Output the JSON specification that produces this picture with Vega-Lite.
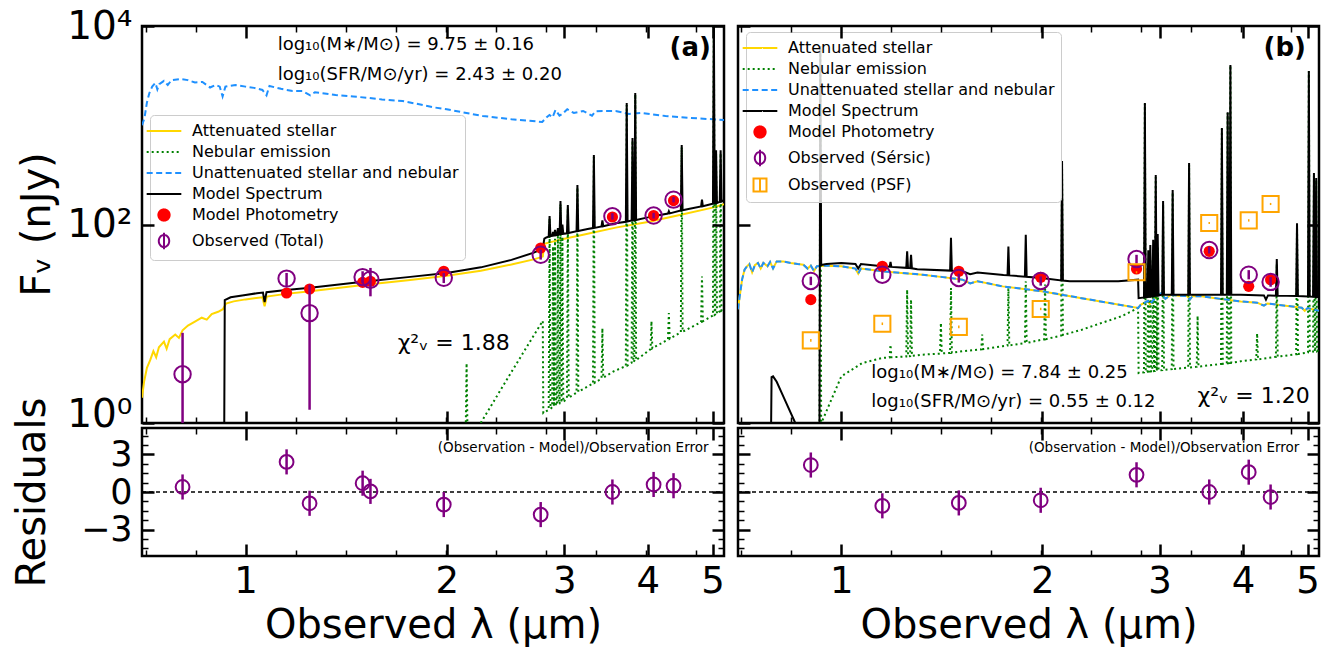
{
"$schema": "https://vega.github.io/schema/vega-lite/v6.json",
"padding": {"left": 10, "top": 5, "right": 5, "bottom": 5},
"background": "white",
"config": {
  "font": "DejaVu Sans",
  "view": {"stroke": "black", "strokeWidth": 2.5},
  "axis": {"grid": false, "domain": false, "tickColor": "black", "labelColor": "black", "titleColor": "black", "titleFontWeight": "normal", "labelFlush": false, "labelOverlap": false, "labelBound": false}
},
"datasets": {
"aAtt": [{"x":0.700,"y":1.8},{"x":0.705,"y":2.6},{"x":0.712,"y":3.6},{"x":0.72,"y":4.3},{"x":0.728,"y":5.3},{"x":0.735,"y":4.6},{"x":0.742,"y":5.8},{"x":0.755,"y":6.6},{"x":0.762,"y":5.6},{"x":0.77,"y":7.0},{"x":0.785,"y":7.8},{"x":0.795,"y":7.2},{"x":0.805,"y":8.6},{"x":0.82,"y":9.6},{"x":0.84,"y":10.5},{"x":0.86,"y":11.5},{"x":0.875,"y":11.0},{"x":0.89,"y":12.5},{"x":0.91,"y":13.2},{"x":0.925,"y":14.0},{"x":0.935,"y":16.0},{"x":0.96,"y":16.8},{"x":1.0,"y":17.6},{"x":1.06,"y":18.5},{"x":1.068,"y":15.0},{"x":1.076,"y":18.8},{"x":1.15,"y":20.0},{"x":1.25,"y":21.3},{"x":1.5,"y":24.6},{"x":1.75,"y":27.5},{"x":2.0,"y":30.5},{"x":2.25,"y":34.2},{"x":2.5,"y":39.5},{"x":2.7,"y":44.5},{"x":2.785,"y":47.5},{"x":2.8,"y":64},{"x":2.9,"y":68},{"x":3.0,"y":72},{"x":3.2,"y":79},{"x":3.58,"y":93},{"x":4.0,"y":106},{"x":4.5,"y":126},{"x":5.0,"y":148},{"x":5.2,"y":160}],
"aNeb": [{"x":0.70,"y":0.3},{"x":2.1356,"y":0.84},{"x":2.142,"y":4.0},{"x":2.1484,"y":0.86},{"x":2.249,"y":1.0},{"x":2.5,"y":3.27},{"x":2.65,"y":6.2},{"x":2.785,"y":10.7},{"x":2.79,"y":1.26},
{"x":2.8425,"y":1.36},{"x":2.851,"y":115},{"x":2.8596,"y":1.39},
{"x":2.8764,"y":1.44},{"x":2.885,"y":60},{"x":2.8937,"y":1.47},
{"x":2.8963,"y":1.48},{"x":2.905,"y":72},{"x":2.9137,"y":1.5},
{"x":2.9252,"y":1.52},{"x":2.934,"y":80},{"x":2.9428,"y":1.55},
{"x":2.9511,"y":1.57},{"x":2.96,"y":160},{"x":2.9689,"y":1.6},
{"x":2.9711,"y":1.61},{"x":2.98,"y":75},{"x":2.9889,"y":1.63},
{"x":3.0269,"y":1.76},{"x":3.036,"y":145},{"x":3.0451,"y":1.8},
{"x":3.1286,"y":2.02},{"x":3.138,"y":235},{"x":3.1474,"y":2.06},
{"x":3.3111,"y":2.5},{"x":3.321,"y":480},{"x":3.331,"y":2.55},
{"x":3.4098,"y":2.8},{"x":3.42,"y":9},{"x":3.4303,"y":2.86},
{"x":3.55,"y":3.3},
{"x":3.7079,"y":3.75},{"x":3.719,"y":1600},{"x":3.7302,"y":3.8},
{"x":3.7826,"y":4.05},{"x":3.794,"y":700},{"x":3.8054,"y":4.1},
{"x":3.8185,"y":4.25},{"x":3.83,"y":2050},{"x":3.8415,"y":4.3},
{"x":4.0379,"y":5.55},{"x":4.05,"y":10.6},{"x":4.0622,"y":5.65},
{"x":4.2871,"y":6.95},{"x":4.3,"y":12.8},{"x":4.3129,"y":7.05},
{"x":4.4816,"y":8.2},{"x":4.495,"y":600},{"x":4.5085,"y":8.3},
{"x":4.8056,"y":10.4},{"x":4.82,"y":30},{"x":4.8345,"y":10.6},
{"x":5.006,"y":12.1},{"x":5.021,"y":15000},{"x":5.0361,"y":12.3},
{"x":5.0449,"y":12.4},{"x":5.06,"y":520},{"x":5.0752,"y":12.6},
{"x":5.1246,"y":13.4},{"x":5.14,"y":520},{"x":5.1554,"y":13.6},
{"x":5.2,"y":14.4}],
"aUna": [{"x":0.700,"y":1000},{"x":0.706,"y":1183},{"x":0.712,"y":1700},{"x":0.718,"y":2113},{"x":0.725,"y":2450},{"x":0.733,"y":2667},{"x":0.738,"y":2300},{"x":0.743,"y":2600},{"x":0.755,"y":2800},{"x":0.765,"y":2550},{"x":0.775,"y":2850},{"x":0.799,"y":2924},{"x":0.82,"y":2850},{"x":0.84,"y":2700},{"x":0.862,"y":2728},{"x":0.885,"y":2400},{"x":0.902,"y":2550},{"x":0.915,"y":2450},{"x":0.924,"y":1950},{"x":0.933,"y":2450},{"x":0.966,"y":2545},{"x":1.0,"y":2450},{"x":1.03,"y":2380},{"x":1.06,"y":2266},{"x":1.075,"y":2000},{"x":1.086,"y":2485},{"x":1.13,"y":2330},{"x":1.176,"y":2213},{"x":1.217,"y":2213},{"x":1.25,"y":2000},{"x":1.27,"y":2150},{"x":1.364,"y":2017},{"x":1.45,"y":1950},{"x":1.533,"y":1882},{"x":1.6,"y":1820},{"x":1.717,"y":1754},{"x":1.8,"y":1650},{"x":1.905,"y":1520},{"x":2.0,"y":1450},{"x":2.264,"y":1240},{"x":2.5,"y":1150},{"x":2.78,"y":1079},{"x":2.82,"y":1200},{"x":2.85,"y":1268},{"x":2.88,"y":1200},{"x":2.91,"y":1425},{"x":2.95,"y":1250},{"x":2.98,"y":1300},{"x":3.03,"y":1450},{"x":3.1,"y":1330},{"x":3.2,"y":1393},{"x":3.3,"y":1250},{"x":3.34,"y":1380},{"x":3.42,"y":1393},{"x":3.58,"y":1393},{"x":3.75,"y":1300},{"x":3.9,"y":1330},{"x":4.25,"y":1240},{"x":4.6,"y":1190},{"x":5.2,"y":1130}],
"aMod": [{"x":0.70,"y":0.5},{"x":0.929,"y":0.5},{"x":0.931,"y":17.3},{"x":0.95,"y":18.5},{"x":1.0,"y":19.5},{"x":1.04,"y":20.3},{"x":1.062,"y":20.6},{"x":1.068,"y":16.5},{"x":1.075,"y":20.8},{"x":1.15,"y":21.9},{"x":1.25,"y":23},{"x":1.5,"y":26.5},{"x":1.75,"y":29.5},{"x":2.0,"y":32.5},{"x":2.25,"y":37},{"x":2.5,"y":44},{"x":2.7,"y":52},{"x":2.785,"y":57},{"x":2.8,"y":72},{"x":2.82,"y":74},
{"x":2.8425,"y":75.5},{"x":2.851,"y":122},{"x":2.8596,"y":76.5},
{"x":2.8764,"y":77},{"x":2.885,"y":84},{"x":2.8937,"y":77.5},
{"x":2.8963,"y":77.6},{"x":2.905,"y":88},{"x":2.9137,"y":78},
{"x":2.9252,"y":78.5},{"x":2.934,"y":92},{"x":2.9428,"y":79},
{"x":2.9511,"y":79.5},{"x":2.96,"y":172},{"x":2.9689,"y":80},
{"x":2.9711,"y":80},{"x":2.98,"y":100},{"x":2.9889,"y":80.5},
{"x":3.0269,"y":81.5},{"x":3.036,"y":157},{"x":3.0451,"y":82},
{"x":3.1286,"y":85.5},{"x":3.138,"y":250},{"x":3.1474,"y":86},
{"x":3.25,"y":90},
{"x":3.3111,"y":92},{"x":3.321,"y":502},{"x":3.331,"y":92.5},
{"x":3.4098,"y":95.5},{"x":3.42,"y":110},{"x":3.4303,"y":96},
{"x":3.58,"y":103},
{"x":3.7079,"y":106.5},{"x":3.719,"y":1675},{"x":3.7302,"y":107},
{"x":3.7826,"y":109.5},{"x":3.794,"y":744},{"x":3.8054,"y":110},
{"x":3.8185,"y":110.5},{"x":3.83,"y":2113},{"x":3.8415,"y":111},
{"x":4.0,"y":118},
{"x":4.0379,"y":120},{"x":4.05,"y":126},{"x":4.0622,"y":120.5},
{"x":4.2871,"y":129},{"x":4.3,"y":136},{"x":4.3129,"y":129.5},
{"x":4.4816,"y":138.5},{"x":4.495,"y":632},{"x":4.5085,"y":139},
{"x":4.6,"y":143},
{"x":4.8056,"y":152},{"x":4.82,"y":178},{"x":4.8345,"y":153},
{"x":5.0,"y":162},
{"x":5.006,"y":162.5},{"x":5.021,"y":15000},{"x":5.0361,"y":163},
{"x":5.0449,"y":163.5},{"x":5.06,"y":560},{"x":5.0752,"y":164.5},
{"x":5.1246,"y":169},{"x":5.14,"y":560},{"x":5.1554,"y":170},
{"x":5.2,"y":176}],
"aPhot": [
{"x":0.805,"f":3.1,"lo":0.5,"hi":8.1,"m":null,"r":0.4,"rlo":-0.6,"rhi":1.4},
{"x":1.152,"f":28.5,"lo":23.9,"hi":32.5,"m":20.4,"r":2.4,"rlo":1.4,"rhi":3.4},
{"x":1.247,"f":12.8,"lo":1.36,"hi":24.8,"m":22.4,"r":-0.9,"rlo":-1.9,"rhi":0.1},
{"x":1.497,"f":29.5,"lo":25.7,"hi":33.8,"m":26.1,"r":0.7,"rlo":-0.3,"rhi":1.7},
{"x":1.538,"f":27.8,"lo":18.9,"hi":36.5,"m":26.8,"r":0.05,"rlo":-0.95,"rhi":1.05},
{"x":1.98,"f":29.0,"lo":25.7,"hi":32.4,"m":33.8,"r":-1.0,"rlo":-2.0,"rhi":0.0},
{"x":2.765,"f":49.5,"lo":44.3,"hi":55.8,"m":57.9,"r":-1.8,"rlo":-2.8,"rhi":-0.8},
{"x":3.54,"f":121,"lo":112,"hi":130,"m":119,"r":0.0,"rlo":-1.0,"rhi":1.0},
{"x":4.08,"f":123,"lo":115,"hi":131,"m":123,"r":0.6,"rlo":-0.4,"rhi":1.6},
{"x":4.37,"f":178,"lo":167,"hi":189,"m":174,"r":0.5,"rlo":-0.5,"rhi":1.5}],
"bAtt": [{"x":0.700,"y":14},{"x":0.703,"y":17.5},{"x":0.71,"y":28},{"x":0.716,"y":35},{"x":0.722,"y":37.9},{"x":0.728,"y":40},{"x":0.735,"y":33},{"x":0.742,"y":39},{"x":0.75,"y":41},{"x":0.757,"y":36},{"x":0.764,"y":41},{"x":0.775,"y":38},{"x":0.782,"y":42},{"x":0.79,"y":36},{"x":0.80,"y":42.5},{"x":0.818,"y":42.5},{"x":0.84,"y":41},{"x":0.86,"y":40},{"x":0.877,"y":39.4},{"x":0.89,"y":36},{"x":0.9,"y":38.5},{"x":0.91,"y":34},{"x":0.919,"y":37.9},{"x":0.95,"y":38.5},{"x":1.0,"y":37.9},{"x":1.05,"y":36},{"x":1.06,"y":32},{"x":1.07,"y":36},{"x":1.152,"y":33.8},{"x":1.23,"y":32.5},{"x":1.323,"y":31.2},{"x":1.42,"y":29.5},{"x":1.519,"y":27.8},{"x":1.56,"y":25.5},{"x":1.6,"y":26.8},{"x":1.745,"y":23.8},{"x":1.996,"y":21.3},{"x":2.293,"y":18.1},{"x":2.785,"y":14.4},{"x":2.81,"y":15.5},{"x":2.88,"y":17.0},{"x":2.9,"y":15.8},{"x":2.95,"y":18.0},{"x":3.0,"y":19.8},{"x":3.02,"y":20.4},{"x":3.06,"y":17.8},{"x":3.12,"y":19.6},{"x":3.2,"y":19.2},{"x":3.3,"y":19.0},{"x":3.33,"y":17.5},{"x":3.36,"y":19.0},{"x":3.47,"y":18.9},{"x":3.7,"y":17.8},{"x":3.97,"y":16.8},{"x":4.2,"y":16.3},{"x":4.3,"y":15.2},{"x":4.35,"y":16.0},{"x":4.6,"y":15.3},{"x":4.9,"y":14.5},{"x":4.95,"y":13.5},{"x":5.0,"y":14.4},{"x":5.2,"y":13.5}],
"bNeb": [{"x":0.70,"y":0.3},{"x":0.9272,"y":0.3},{"x":0.930,"y":6000},{"x":0.9328,"y":0.6},{"x":0.938,"y":1.08},{"x":1.0,"y":2.95},{"x":1.075,"y":4.02},{"x":1.152,"y":4.52},
{"x":1.1815,"y":4.58},{"x":1.185,"y":6.15},{"x":1.1886,"y":4.6},
{"x":1.2512,"y":4.68},{"x":1.255,"y":22},{"x":1.2588,"y":4.7},
{"x":1.2682,"y":4.72},{"x":1.272,"y":17.5},{"x":1.2758,"y":4.74},
{"x":1.323,"y":4.88},
{"x":1.4058,"y":5.0},{"x":1.41,"y":10.2},{"x":1.4142,"y":5.02},
{"x":1.4556,"y":5.08},{"x":1.46,"y":22.9},{"x":1.4644,"y":5.1},
{"x":1.519,"y":5.28},
{"x":1.6211,"y":5.52},{"x":1.626,"y":7.8},{"x":1.6309,"y":5.56},
{"x":1.745,"y":5.93},
{"x":1.7747,"y":6.03},{"x":1.78,"y":23.8},{"x":1.7853,"y":6.06},
{"x":1.8843,"y":6.38},{"x":1.89,"y":26.8},{"x":1.8957,"y":6.4},
{"x":1.996,"y":6.9},
{"x":2.014,"y":6.97},{"x":2.02,"y":24.8},{"x":2.0261,"y":7.0},
{"x":2.1356,"y":7.6},{"x":2.142,"y":420},{"x":2.1484,"y":7.7},
{"x":2.293,"y":8.71},{"x":2.63,"y":11.9},{"x":2.785,"y":14.4},{"x":2.79,"y":3.19},
{"x":2.8425,"y":3.24},{"x":2.851,"y":1650},{"x":2.8596,"y":3.26},
{"x":2.8764,"y":3.28},{"x":2.885,"y":40},{"x":2.8937,"y":3.3},
{"x":2.8963,"y":3.3},{"x":2.905,"y":45},{"x":2.9137,"y":3.31},
{"x":2.9252,"y":3.32},{"x":2.934,"y":50},{"x":2.9428,"y":3.33},
{"x":2.9511,"y":3.34},{"x":2.96,"y":300},{"x":2.9689,"y":3.35},
{"x":2.9711,"y":3.36},{"x":2.98,"y":60},{"x":2.9889,"y":3.37},
{"x":3.0269,"y":3.41},{"x":3.036,"y":160},{"x":3.0451,"y":3.42},
{"x":3.1286,"y":3.49},{"x":3.138,"y":210},{"x":3.1474,"y":3.5},
{"x":3.3111,"y":3.61},{"x":3.321,"y":400},{"x":3.331,"y":3.62},
{"x":3.4098,"y":3.69},{"x":3.42,"y":12},{"x":3.4303,"y":3.7},
{"x":3.47,"y":3.73},
{"x":3.7079,"y":3.94},{"x":3.719,"y":920},{"x":3.7302,"y":3.95},
{"x":3.7826,"y":4.0},{"x":3.794,"y":1330},{"x":3.8054,"y":4.01},
{"x":3.8185,"y":4.03},{"x":3.83,"y":4000},{"x":3.8415,"y":4.04},
{"x":3.97,"y":4.19},
{"x":4.1874,"y":4.37},{"x":4.2,"y":8},{"x":4.2126,"y":4.38},
{"x":4.4816,"y":4.64},{"x":4.495,"y":40},{"x":4.5085,"y":4.66},
{"x":4.56,"y":4.7},
{"x":4.8056,"y":4.94},{"x":4.82,"y":100},{"x":4.8345,"y":4.96},
{"x":5.006,"y":5.14},{"x":5.021,"y":3500},{"x":5.0361,"y":5.16},
{"x":5.0947,"y":5.23},{"x":5.11,"y":310},{"x":5.1253,"y":5.25},
{"x":5.1346,"y":5.28},{"x":5.15,"y":280},{"x":5.1655,"y":5.3},
{"x":5.2,"y":5.48}],
"bMod": [{"x":0.70,"y":0.5},{"x":0.784,"y":0.5},{"x":0.786,"y":2.9},{"x":0.79,"y":2.95},{"x":0.80,"y":2.6},{"x":0.82,"y":1.8},{"x":0.853,"y":1.0},{"x":0.88,"y":0.6},{"x":0.92,"y":0.5},{"x":0.9272,"y":0.5},{"x":0.930,"y":6300},{"x":0.9328,"y":39},{"x":0.95,"y":40},{"x":1.0,"y":41},{"x":1.05,"y":40},{"x":1.06,"y":36},{"x":1.07,"y":40},{"x":1.152,"y":37.9},
{"x":1.1815,"y":37.5},{"x":1.185,"y":42},{"x":1.1886,"y":37.4},
{"x":1.2512,"y":36.6},{"x":1.255,"y":53.7},{"x":1.2588,"y":36.5},
{"x":1.2682,"y":36.3},{"x":1.272,"y":49.6},{"x":1.2758,"y":36.2},
{"x":1.3,"y":35.5},
{"x":1.4556,"y":34.3},{"x":1.46,"y":73.4},{"x":1.4644,"y":34.2},
{"x":1.519,"y":33.8},{"x":1.56,"y":31.5},{"x":1.6,"y":32.8},
{"x":1.75,"y":31},
{"x":1.7747,"y":30.8},{"x":1.78,"y":60.1},{"x":1.7853,"y":30.7},
{"x":1.8843,"y":29.8},{"x":1.89,"y":79},{"x":1.8957,"y":29.7},
{"x":1.996,"y":28.9},
{"x":2.1356,"y":27.3},{"x":2.142,"y":437},{"x":2.1484,"y":27.2},
{"x":2.2,"y":26.8},{"x":2.6,"y":26.8},{"x":2.785,"y":27.8},{"x":2.79,"y":18.1},
{"x":2.8425,"y":18.4},{"x":2.851,"y":1675},{"x":2.8596,"y":18.5},
{"x":2.8764,"y":18.6},{"x":2.885,"y":55},{"x":2.8937,"y":18.7},
{"x":2.8963,"y":18.7},{"x":2.905,"y":62},{"x":2.9137,"y":18.8},
{"x":2.9252,"y":18.9},{"x":2.934,"y":70},{"x":2.9428,"y":19.0},
{"x":2.9511,"y":19.1},{"x":2.96,"y":315},{"x":2.9689,"y":19.2},
{"x":2.9711,"y":19.2},{"x":2.98,"y":80},{"x":2.9889,"y":19.3},
{"x":3.02,"y":19.6},
{"x":3.0269,"y":19.6},{"x":3.036,"y":172},{"x":3.0451,"y":19.6},
{"x":3.1286,"y":19.6},{"x":3.138,"y":223},{"x":3.1474,"y":19.6},
{"x":3.3111,"y":19.6},{"x":3.321,"y":417},{"x":3.331,"y":19.6},
{"x":3.7079,"y":19.6},{"x":3.719,"y":938},{"x":3.7302,"y":19.6},
{"x":3.7826,"y":19.6},{"x":3.794,"y":1350},{"x":3.8054,"y":19.6},
{"x":3.8185,"y":19.6},{"x":3.83,"y":4045},{"x":3.8415,"y":19.6},
{"x":3.97,"y":19.6},
{"x":4.3,"y":19.3},{"x":4.33,"y":17.5},{"x":4.36,"y":19.3},
{"x":4.4816,"y":19.2},{"x":4.495,"y":45},{"x":4.5085,"y":19.2},
{"x":4.8056,"y":19.0},{"x":4.82,"y":103},{"x":4.8345,"y":19.0},
{"x":5.006,"y":18.8},{"x":5.021,"y":3520},{"x":5.0361,"y":18.8},
{"x":5.0947,"y":18.7},{"x":5.11,"y":330},{"x":5.1253,"y":18.7},
{"x":5.1346,"y":18.6},{"x":5.15,"y":294},{"x":5.1655,"y":18.6},
{"x":5.2,"y":18.6}],
"bPhot": [
{"x":0.90,"f":27.0,"lo":24.5,"hi":29.8,"m":17.5,"p":6.8,"plo":6.6,"phi":7.0,"r":2.15,"rlo":1.15,"rhi":3.15},
{"x":1.152,"f":31.2,"lo":28.3,"hi":34.4,"m":37.9,"p":10.0,"plo":9.7,"phi":10.3,"r":-1.1,"rlo":-2.1,"rhi":-0.1},
{"x":1.50,"f":28.9,"lo":26.0,"hi":32.0,"m":33.8,"p":9.3,"plo":9.0,"phi":9.6,"r":-0.87,"rlo":-1.87,"rhi":0.13},
{"x":1.99,"f":27.0,"lo":24.2,"hi":30.0,"m":29.4,"p":14.1,"plo":13.7,"phi":14.5,"r":-0.66,"rlo":-1.66,"rhi":0.34},
{"x":2.77,"f":44.9,"lo":40.7,"hi":49.5,"m":35.6,"p":33.0,"plo":32.2,"phi":33.8,"r":1.37,"rlo":0.37,"rhi":2.37},
{"x":3.56,"f":55.3,"lo":51.0,"hi":60.0,"m":53.7,"p":103.5,"plo":101,"phi":106,"r":0.0,"rlo":-1.0,"rhi":1.0},
{"x":4.08,"f":31.2,"lo":28.0,"hi":34.7,"m":23.8,"p":110,"plo":107,"phi":113,"r":1.58,"rlo":0.58,"rhi":2.58},
{"x":4.40,"f":26.4,"lo":23.6,"hi":29.5,"m":27.8,"p":161,"plo":157,"phi":165,"r":-0.4,"rlo":-1.4,"rhi":0.6}]
},
"spacing": 8,
"resolve": {"scale": {"color": "independent"}},
"hconcat": [
{
"bounds": "flush",
"spacing": 5,
"resolve": {"scale": {"color": "independent"}},
"vconcat": [
{
"width": 582, "height": 397,
"resolve": {"axis": {"x": "independent", "y": "independent"}},
"layer": [
{"data": {"name": "aAtt"}, "mark": {"type": "line", "strokeWidth": 2, "clip": true},
 "encoding": {
  "x": {"field": "x", "type": "quantitative", "scale": {"type": "log", "domain": [0.7, 5.2], "nice": false}, "axis": {"orient": "bottom", "values": [1,2,3,4,5], "labels": false, "tickSize": -12, "tickWidth": 2.5, "title": null, "zindex": 1}},
  "y": {"field": "y", "type": "quantitative", "scale": {"type": "log", "domain": [1, 10000], "nice": false}, "axis": {"orient": "left", "values": [1,100,10000], "tickSize": -12, "tickWidth": 2.5, "labelExpr": "datum.value == 1 ? '10⁰' : datum.value == 100 ? '10²' : '10⁴'", "labelFontSize": 39, "labelPadding": 22, "labelOffset": {"condition": {"test": "datum.value == 1", "value": -9}, "value": 0}, "title": "Fᵥ (nJy)", "titleFontSize": 40, "titleX": -105, "titleY": 198, "titleAngle": 270, "titleAlign": "center", "titleBaseline": "middle", "zindex": 1}},
  "color": {"datum": "att", "type": "nominal", "scale": {"domain": ["att","neb","una","mod","phot","tot"], "range": ["#ffd700","#008000","#1e90ff","#000000","#ff0000","#800080"]},
   "legend": {"orient": "none", "legendX": 8, "legendY": 89, "title": null,
    "labelExpr": "datum.value == 'att' ? 'Attenuated stellar' : datum.value == 'neb' ? 'Nebular emission' : datum.value == 'una' ? 'Unattenuated stellar and nebular' : datum.value == 'mod' ? 'Model Spectrum' : datum.value == 'phot' ? 'Model Photometry' : datum.value == 'tot' ? 'Observed (Total)' : datum.value == 'ser' ? 'Observed (Sérsic)' : 'Observed (PSF)'",
    "labelFontSize": 16, "labelLimit": 400, "labelColor": "black", "symbolSize": 300, "symbolStrokeWidth": 2, "symbolOffset": -2, "labelOffset": 18, "padding": 6, "rowPadding": 3,
    "fillColor": "rgba(255,255,255,0.8)", "strokeColor": "#cccccc", "cornerRadius": 4,
    "encode": {"symbols": {"update": {
      "shape": {"signal": "indexof(['att','neb','una','mod'], datum.value) >= 0 ? 'M-2,0L2,0' : datum.value == 'phot' ? 'M-0.65,0A0.65,0.65 0 1,1 0.65,0A0.65,0.65 0 1,1 -0.65,0Z' : datum.value == 'psf' ? 'M-0.75,-0.75L0.75,-0.75L0.75,0.75L-0.75,0.75ZM0,-0.75L0,0.75' : 'M-0.6,0A0.6,0.7 0 1,1 0.6,0A0.6,0.7 0 1,1 -0.6,0M0,-0.95L0,0.95'"},
      "fill": {"signal": "datum.value == 'phot' ? '#ff0000' : 'transparent'"},
      "strokeDash": {"signal": "datum.value == 'neb' ? [2, 3] : datum.value == 'una' ? [6, 3.5] : [1, 0]"}
    }}}}}
 }},
{"data": {"name": "aNeb"}, "mark": {"type": "line", "strokeWidth": 2, "color": "#008000", "strokeDash": [2, 3], "clip": true},
 "encoding": {
  "x": {"field": "x", "type": "quantitative", "scale": {"type": "log", "domain": [0.7, 5.2], "nice": false}, "axis": {"orient": "bottom", "values": [0.7085,0.8417,1.1881,1.4116,1.6771,1.9926,2.3674,2.8127,3.3418,3.9703,4.7171], "labels": false, "tickSize": -6, "tickWidth": 1.5, "title": null, "zindex": 1}},
  "y": {"field": "y", "type": "quantitative", "scale": {"type": "log", "domain": [1, 10000], "nice": false}, "axis": null}}},
{"data": {"name": "aUna"}, "mark": {"type": "line", "strokeWidth": 2, "color": "#1e90ff", "strokeDash": [6, 3.5], "clip": true},
 "encoding": {
  "x": {"field": "x", "type": "quantitative", "scale": {"type": "log", "domain": [0.7, 5.2], "nice": false}, "axis": {"orient": "top", "values": [1,2,3,4,5], "labels": false, "tickSize": -12, "tickWidth": 2.5, "title": null, "zindex": 1}},
  "y": {"field": "y", "type": "quantitative", "scale": {"type": "log", "domain": [1, 10000], "nice": false}, "axis": {"orient": "right", "values": [1,100,10000], "labels": false, "tickSize": -12, "tickWidth": 2.5, "title": null, "zindex": 1}}}},
{"data": {"name": "aMod"}, "mark": {"type": "line", "strokeWidth": 2, "color": "#000000", "clip": true},
 "encoding": {
  "x": {"field": "x", "type": "quantitative", "scale": {"type": "log", "domain": [0.7, 5.2], "nice": false}, "axis": {"orient": "top", "values": [0.7085,0.8417,1.1881,1.4116,1.6771,1.9926,2.3674,2.8127,3.3418,3.9703,4.7171], "labels": false, "tickSize": -6, "tickWidth": 1.5, "title": null, "zindex": 1}},
  "y": {"field": "y", "type": "quantitative", "scale": {"type": "log", "domain": [1, 10000], "nice": false}, "axis": null}}},
{"data": {"name": "aPhot"}, "mark": {"type": "point", "filled": true, "color": "#ff0000", "size": 125, "opacity": 1, "clip": true},
 "encoding": {
  "x": {"field": "x", "type": "quantitative", "scale": {"type": "log", "domain": [0.7, 5.2], "nice": false}, "axis": null},
  "y": {"field": "m", "type": "quantitative", "scale": {"type": "log", "domain": [1, 10000], "nice": false}, "axis": null}}},
{"data": {"name": "aPhot"}, "mark": {"type": "rule", "color": "#800080", "strokeWidth": 2.5, "clip": true},
 "encoding": {
  "x": {"field": "x", "type": "quantitative", "scale": {"type": "log", "domain": [0.7, 5.2], "nice": false}, "axis": null},
  "y": {"field": "lo", "type": "quantitative", "scale": {"type": "log", "domain": [1, 10000], "nice": false}, "axis": null},
  "y2": {"field": "hi"}}},
{"data": {"name": "aPhot"}, "mark": {"type": "point", "filled": false, "color": "#800080", "size": 270, "strokeWidth": 2, "opacity": 1, "clip": true},
 "encoding": {
  "x": {"field": "x", "type": "quantitative", "scale": {"type": "log", "domain": [0.7, 5.2], "nice": false}, "axis": null},
  "y": {"field": "f", "type": "quantitative", "scale": {"type": "log", "domain": [1, 10000], "nice": false}, "axis": null}}},
{"data": {"values": [{"x": 1.117, "y": 6440, "t": "log₁₀(M∗/M⊙) = 9.75 ± 0.16"}, {"x": 1.117, "y": 3210, "t": "log₁₀(SFR/M⊙/yr) = 2.43 ± 0.20"}]},
 "mark": {"type": "text", "fontSize": 18, "align": "left", "baseline": "middle", "color": "black"},
 "encoding": {
  "x": {"field": "x", "type": "quantitative", "scale": {"type": "log", "domain": [0.7, 5.2], "nice": false}, "axis": null},
  "y": {"field": "y", "type": "quantitative", "scale": {"type": "log", "domain": [1, 10000], "nice": false}, "axis": null},
  "text": {"field": "t"}}},
{"data": {"values": [{"x": 4.97, "y": 6000, "t": "(a)"}]},
 "mark": {"type": "text", "fontSize": 26, "fontWeight": "bold", "align": "right", "baseline": "middle", "color": "black"},
 "encoding": {
  "x": {"field": "x", "type": "quantitative", "scale": {"type": "log", "domain": [0.7, 5.2], "nice": false}, "axis": null},
  "y": {"field": "y", "type": "quantitative", "scale": {"type": "log", "domain": [1, 10000], "nice": false}, "axis": null},
  "text": {"field": "t"}}},
{"data": {"values": [{"x": 1.689, "y": 6.4, "t": "χ²ᵥ = 1.88"}]},
 "mark": {"type": "text", "fontSize": 22, "align": "left", "baseline": "middle", "color": "black"},
 "encoding": {
  "x": {"field": "x", "type": "quantitative", "scale": {"type": "log", "domain": [0.7, 5.2], "nice": false}, "axis": null},
  "y": {"field": "y", "type": "quantitative", "scale": {"type": "log", "domain": [1, 10000], "nice": false}, "axis": null},
  "text": {"field": "t"}}}
]
},
{
"width": 582, "height": 128,
"resolve": {"axis": {"x": "independent", "y": "independent"}},
"layer": [
{"data": {"values": [{}]}, "mark": {"type": "rule", "color": "black", "strokeWidth": 1.3, "strokeDash": [4, 3]},
 "encoding": {
  "x": {"datum": 0.7, "type": "quantitative", "scale": {"type": "log", "domain": [0.7, 5.2], "nice": false}, "axis": {"orient": "top", "values": [0.7085,0.8417,1.1881,1.4116,1.6771,1.9926,2.3674,2.8127,3.3418,3.9703,4.7171], "labels": false, "tickSize": -6, "tickWidth": 1.5, "title": null, "zindex": 1}},
  "x2": {"datum": 5.2},
  "y": {"datum": 0, "type": "quantitative", "scale": {"domain": [-5.1, 5.1], "nice": false, "zero": false}, "axis": {"orient": "right", "values": [-4.5,-3.75,-2.25,-1.5,-0.75,0.75,1.5,2.25,3.75,4.5], "labels": false, "tickSize": -6, "tickWidth": 1.5, "title": null, "zindex": 1}}}},
{"data": {"name": "aPhot"}, "mark": {"type": "rule", "color": "#800080", "strokeWidth": 2.5},
 "encoding": {
  "x": {"field": "x", "type": "quantitative", "scale": {"type": "log", "domain": [0.7, 5.2], "nice": false}, "axis": {"orient": "bottom", "values": [1,2,3,4,5], "tickSize": -12, "tickWidth": 2.5, "labelExpr": "'' + datum.value", "labelFontSize": 37, "labelPadding": 19, "title": "Observed λ (μm)", "titleFontSize": 40, "titlePadding": 6, "zindex": 1}},
  "y": {"field": "rlo", "type": "quantitative", "scale": {"domain": [-5.1, 5.1], "nice": false, "zero": false}, "axis": {"orient": "left", "values": [-3,0,3], "tickSize": -12, "tickWidth": 2.5, "labelExpr": "datum.value < 0 ? '−' + abs(datum.value) : '' + datum.value", "labelFontSize": 35, "labelPadding": 22, "title": "Residuals", "titleFontSize": 40, "titleX": -110, "titleY": 64, "titleAngle": 270, "titleAlign": "center", "titleBaseline": "middle", "zindex": 1}},
  "y2": {"field": "rhi"}}},
{"data": {"name": "aPhot"}, "mark": {"type": "point", "filled": false, "color": "#800080", "size": 190, "strokeWidth": 2, "opacity": 1},
 "encoding": {
  "x": {"field": "x", "type": "quantitative", "scale": {"type": "log", "domain": [0.7, 5.2], "nice": false}, "axis": {"orient": "bottom", "values": [0.7085,0.8417,1.1881,1.4116,1.6771,1.9926,2.3674,2.8127,3.3418,3.9703,4.7171], "labels": false, "tickSize": -6, "tickWidth": 1.5, "title": null, "zindex": 1}},
  "y": {"field": "r", "type": "quantitative", "scale": {"domain": [-5.1, 5.1], "nice": false, "zero": false}, "axis": {"orient": "left", "values": [-4.5,-3.75,-2.25,-1.5,-0.75,0.75,1.5,2.25,3.75,4.5], "labels": false, "tickSize": -6, "tickWidth": 1.5, "title": null, "zindex": 1}}}},
{"data": {"values": [{"x": 4.93, "y": 3.47, "t": "(Observation - Model)/Observation Error"}]},
 "mark": {"type": "text", "fontSize": 13.5, "align": "right", "baseline": "middle", "color": "black"},
 "encoding": {
  "x": {"field": "x", "type": "quantitative", "scale": {"type": "log", "domain": [0.7, 5.2], "nice": false}, "axis": {"orient": "top", "values": [1,2,3,4,5], "labels": false, "tickSize": -12, "tickWidth": 2.5, "title": null, "zindex": 1}},
  "y": {"field": "y", "type": "quantitative", "scale": {"domain": [-5.1, 5.1], "nice": false, "zero": false}, "axis": {"orient": "right", "values": [-3,0,3], "labels": false, "tickSize": -12, "tickWidth": 2.5, "title": null, "zindex": 1}},
  "text": {"field": "t"}}}
]
}
]
},
{
"bounds": "flush",
"spacing": 5,
"resolve": {"scale": {"color": "independent"}},
"vconcat": [
{
"width": 581, "height": 397,
"resolve": {"axis": {"x": "independent", "y": "independent"}},
"layer": [
{"data": {"name": "bAtt"}, "mark": {"type": "line", "strokeWidth": 2, "clip": true},
 "encoding": {
  "x": {"field": "x", "type": "quantitative", "scale": {"type": "log", "domain": [0.7, 5.2], "nice": false}, "axis": {"orient": "bottom", "values": [1,2,3,4,5], "labels": false, "tickSize": -12, "tickWidth": 2.5, "title": null, "zindex": 1}},
  "y": {"field": "y", "type": "quantitative", "scale": {"type": "log", "domain": [1, 10000], "nice": false}, "axis": {"orient": "left", "values": [1,100,10000], "labels": false, "tickSize": -12, "tickWidth": 2.5, "title": null, "zindex": 1}},
  "color": {"datum": "att", "type": "nominal", "scale": {"domain": ["att","neb","una","mod","phot","ser","psf"], "range": ["#ffd700","#008000","#1e90ff","#000000","#ff0000","#800080","#ffa500"]},
   "legend": {"orient": "none", "legendX": 8, "legendY": 6, "title": null,
    "labelExpr": "datum.value == 'att' ? 'Attenuated stellar' : datum.value == 'neb' ? 'Nebular emission' : datum.value == 'una' ? 'Unattenuated stellar and nebular' : datum.value == 'mod' ? 'Model Spectrum' : datum.value == 'phot' ? 'Model Photometry' : datum.value == 'tot' ? 'Observed (Total)' : datum.value == 'ser' ? 'Observed (Sérsic)' : 'Observed (PSF)'",
    "labelFontSize": 16, "labelLimit": 400, "labelColor": "black", "symbolSize": 300, "symbolStrokeWidth": 2, "symbolOffset": -2, "labelOffset": 18, "padding": 6, "rowPadding": 3,
    "fillColor": "rgba(255,255,255,0.8)", "strokeColor": "#cccccc", "cornerRadius": 4,
    "encode": {"symbols": {"update": {
      "shape": {"signal": "indexof(['att','neb','una','mod'], datum.value) >= 0 ? 'M-2,0L2,0' : datum.value == 'phot' ? 'M-0.65,0A0.65,0.65 0 1,1 0.65,0A0.65,0.65 0 1,1 -0.65,0Z' : datum.value == 'psf' ? 'M-0.75,-0.75L0.75,-0.75L0.75,0.75L-0.75,0.75ZM0,-0.75L0,0.75' : 'M-0.6,0A0.6,0.7 0 1,1 0.6,0A0.6,0.7 0 1,1 -0.6,0M0,-0.95L0,0.95'"},
      "fill": {"signal": "datum.value == 'phot' ? '#ff0000' : 'transparent'"},
      "strokeDash": {"signal": "datum.value == 'neb' ? [2, 3] : datum.value == 'una' ? [6, 3.5] : [1, 0]"}
    }}}}}
 }},
{"data": {"name": "bNeb"}, "mark": {"type": "line", "strokeWidth": 2, "color": "#008000", "strokeDash": [2, 3], "clip": true},
 "encoding": {
  "x": {"field": "x", "type": "quantitative", "scale": {"type": "log", "domain": [0.7, 5.2], "nice": false}, "axis": {"orient": "bottom", "values": [0.7085,0.8417,1.1881,1.4116,1.6771,1.9926,2.3674,2.8127,3.3418,3.9703,4.7171], "labels": false, "tickSize": -6, "tickWidth": 1.5, "title": null, "zindex": 1}},
  "y": {"field": "y", "type": "quantitative", "scale": {"type": "log", "domain": [1, 10000], "nice": false}, "axis": null}}},
{"data": {"name": "bAtt"}, "mark": {"type": "line", "strokeWidth": 2, "color": "#1e90ff", "strokeDash": [6, 3.5], "clip": true},
 "encoding": {
  "x": {"field": "x", "type": "quantitative", "scale": {"type": "log", "domain": [0.7, 5.2], "nice": false}, "axis": {"orient": "top", "values": [1,2,3,4,5], "labels": false, "tickSize": -12, "tickWidth": 2.5, "title": null, "zindex": 1}},
  "y": {"field": "y", "type": "quantitative", "scale": {"type": "log", "domain": [1, 10000], "nice": false}, "axis": {"orient": "right", "values": [1,100,10000], "labels": false, "tickSize": -12, "tickWidth": 2.5, "title": null, "zindex": 1}}}},
{"data": {"name": "bMod"}, "mark": {"type": "line", "strokeWidth": 2, "color": "#000000", "clip": true},
 "encoding": {
  "x": {"field": "x", "type": "quantitative", "scale": {"type": "log", "domain": [0.7, 5.2], "nice": false}, "axis": {"orient": "top", "values": [0.7085,0.8417,1.1881,1.4116,1.6771,1.9926,2.3674,2.8127,3.3418,3.9703,4.7171], "labels": false, "tickSize": -6, "tickWidth": 1.5, "title": null, "zindex": 1}},
  "y": {"field": "y", "type": "quantitative", "scale": {"type": "log", "domain": [1, 10000], "nice": false}, "axis": null}}},
{"data": {"name": "bPhot"}, "mark": {"type": "point", "filled": true, "color": "#ff0000", "size": 125, "opacity": 1, "clip": true},
 "encoding": {
  "x": {"field": "x", "type": "quantitative", "scale": {"type": "log", "domain": [0.7, 5.2], "nice": false}, "axis": null},
  "y": {"field": "m", "type": "quantitative", "scale": {"type": "log", "domain": [1, 10000], "nice": false}, "axis": null}}},
{"data": {"name": "bPhot"}, "mark": {"type": "rule", "color": "#800080", "strokeWidth": 2.5, "clip": true},
 "encoding": {
  "x": {"field": "x", "type": "quantitative", "scale": {"type": "log", "domain": [0.7, 5.2], "nice": false}, "axis": null},
  "y": {"field": "lo", "type": "quantitative", "scale": {"type": "log", "domain": [1, 10000], "nice": false}, "axis": null},
  "y2": {"field": "hi"}}},
{"data": {"name": "bPhot"}, "mark": {"type": "point", "filled": false, "color": "#800080", "size": 270, "strokeWidth": 2, "opacity": 1, "clip": true},
 "encoding": {
  "x": {"field": "x", "type": "quantitative", "scale": {"type": "log", "domain": [0.7, 5.2], "nice": false}, "axis": null},
  "y": {"field": "f", "type": "quantitative", "scale": {"type": "log", "domain": [1, 10000], "nice": false}, "axis": null}}},
{"data": {"name": "bPhot"}, "mark": {"type": "rule", "color": "#ffa500", "strokeWidth": 1.5, "clip": true},
 "encoding": {
  "x": {"field": "x", "type": "quantitative", "scale": {"type": "log", "domain": [0.7, 5.2], "nice": false}, "axis": null},
  "y": {"field": "plo", "type": "quantitative", "scale": {"type": "log", "domain": [1, 10000], "nice": false}, "axis": null},
  "y2": {"field": "phi"}}},
{"data": {"name": "bPhot"}, "mark": {"type": "point", "shape": "square", "filled": false, "color": "#ffa500", "size": 260, "strokeWidth": 2, "opacity": 1, "clip": true},
 "encoding": {
  "x": {"field": "x", "type": "quantitative", "scale": {"type": "log", "domain": [0.7, 5.2], "nice": false}, "axis": null},
  "y": {"field": "p", "type": "quantitative", "scale": {"type": "log", "domain": [1, 10000], "nice": false}, "axis": null}}},
{"data": {"values": [{"x": 1.109, "y": 3.19, "t": "log₁₀(M∗/M⊙) = 7.84 ± 0.25"}, {"x": 1.109, "y": 1.62, "t": "log₁₀(SFR/M⊙/yr) = 0.55 ± 0.12"}]},
 "mark": {"type": "text", "fontSize": 18, "align": "left", "baseline": "middle", "color": "black"},
 "encoding": {
  "x": {"field": "x", "type": "quantitative", "scale": {"type": "log", "domain": [0.7, 5.2], "nice": false}, "axis": null},
  "y": {"field": "y", "type": "quantitative", "scale": {"type": "log", "domain": [1, 10000], "nice": false}, "axis": null},
  "text": {"field": "t"}}},
{"data": {"values": [{"x": 4.97, "y": 6000, "t": "(b)"}]},
 "mark": {"type": "text", "fontSize": 26, "fontWeight": "bold", "align": "right", "baseline": "middle", "color": "black"},
 "encoding": {
  "x": {"field": "x", "type": "quantitative", "scale": {"type": "log", "domain": [0.7, 5.2], "nice": false}, "axis": null},
  "y": {"field": "y", "type": "quantitative", "scale": {"type": "log", "domain": [1, 10000], "nice": false}, "axis": null},
  "text": {"field": "t"}}},
{"data": {"values": [{"x": 3.42, "y": 1.87, "t": "χ²ᵥ = 1.20"}]},
 "mark": {"type": "text", "fontSize": 22, "align": "left", "baseline": "middle", "color": "black"},
 "encoding": {
  "x": {"field": "x", "type": "quantitative", "scale": {"type": "log", "domain": [0.7, 5.2], "nice": false}, "axis": null},
  "y": {"field": "y", "type": "quantitative", "scale": {"type": "log", "domain": [1, 10000], "nice": false}, "axis": null},
  "text": {"field": "t"}}}
]
},
{
"width": 581, "height": 128,
"resolve": {"axis": {"x": "independent", "y": "independent"}},
"layer": [
{"data": {"values": [{}]}, "mark": {"type": "rule", "color": "black", "strokeWidth": 1.3, "strokeDash": [4, 3]},
 "encoding": {
  "x": {"datum": 0.7, "type": "quantitative", "scale": {"type": "log", "domain": [0.7, 5.2], "nice": false}, "axis": {"orient": "top", "values": [0.7085,0.8417,1.1881,1.4116,1.6771,1.9926,2.3674,2.8127,3.3418,3.9703,4.7171], "labels": false, "tickSize": -6, "tickWidth": 1.5, "title": null, "zindex": 1}},
  "x2": {"datum": 5.2},
  "y": {"datum": 0, "type": "quantitative", "scale": {"domain": [-5.1, 5.1], "nice": false, "zero": false}, "axis": {"orient": "right", "values": [-4.5,-3.75,-2.25,-1.5,-0.75,0.75,1.5,2.25,3.75,4.5], "labels": false, "tickSize": -6, "tickWidth": 1.5, "title": null, "zindex": 1}}}},
{"data": {"name": "bPhot"}, "mark": {"type": "rule", "color": "#800080", "strokeWidth": 2.5},
 "encoding": {
  "x": {"field": "x", "type": "quantitative", "scale": {"type": "log", "domain": [0.7, 5.2], "nice": false}, "axis": {"orient": "bottom", "values": [1,2,3,4,5], "tickSize": -12, "tickWidth": 2.5, "labelExpr": "'' + datum.value", "labelFontSize": 37, "labelPadding": 19, "title": "Observed λ (μm)", "titleFontSize": 40, "titlePadding": 6, "zindex": 1}},
  "y": {"field": "rlo", "type": "quantitative", "scale": {"domain": [-5.1, 5.1], "nice": false, "zero": false}, "axis": {"orient": "left", "values": [-3,0,3], "labels": false, "tickSize": -12, "tickWidth": 2.5, "title": null, "zindex": 1}},
  "y2": {"field": "rhi"}}},
{"data": {"name": "bPhot"}, "mark": {"type": "point", "filled": false, "color": "#800080", "size": 190, "strokeWidth": 2, "opacity": 1},
 "encoding": {
  "x": {"field": "x", "type": "quantitative", "scale": {"type": "log", "domain": [0.7, 5.2], "nice": false}, "axis": {"orient": "bottom", "values": [0.7085,0.8417,1.1881,1.4116,1.6771,1.9926,2.3674,2.8127,3.3418,3.9703,4.7171], "labels": false, "tickSize": -6, "tickWidth": 1.5, "title": null, "zindex": 1}},
  "y": {"field": "r", "type": "quantitative", "scale": {"domain": [-5.1, 5.1], "nice": false, "zero": false}, "axis": {"orient": "left", "values": [-4.5,-3.75,-2.25,-1.5,-0.75,0.75,1.5,2.25,3.75,4.5], "labels": false, "tickSize": -6, "tickWidth": 1.5, "title": null, "zindex": 1}}}},
{"data": {"values": [{"x": 4.86, "y": 3.47, "t": "(Observation - Model)/Observation Error"}]},
 "mark": {"type": "text", "fontSize": 13.5, "align": "right", "baseline": "middle", "color": "black"},
 "encoding": {
  "x": {"field": "x", "type": "quantitative", "scale": {"type": "log", "domain": [0.7, 5.2], "nice": false}, "axis": {"orient": "top", "values": [1,2,3,4,5], "labels": false, "tickSize": -12, "tickWidth": 2.5, "title": null, "zindex": 1}},
  "y": {"field": "y", "type": "quantitative", "scale": {"domain": [-5.1, 5.1], "nice": false, "zero": false}, "axis": {"orient": "right", "values": [-3,0,3], "labels": false, "tickSize": -12, "tickWidth": 2.5, "title": null, "zindex": 1}},
  "text": {"field": "t"}}}
]
}
]
}
]
}
